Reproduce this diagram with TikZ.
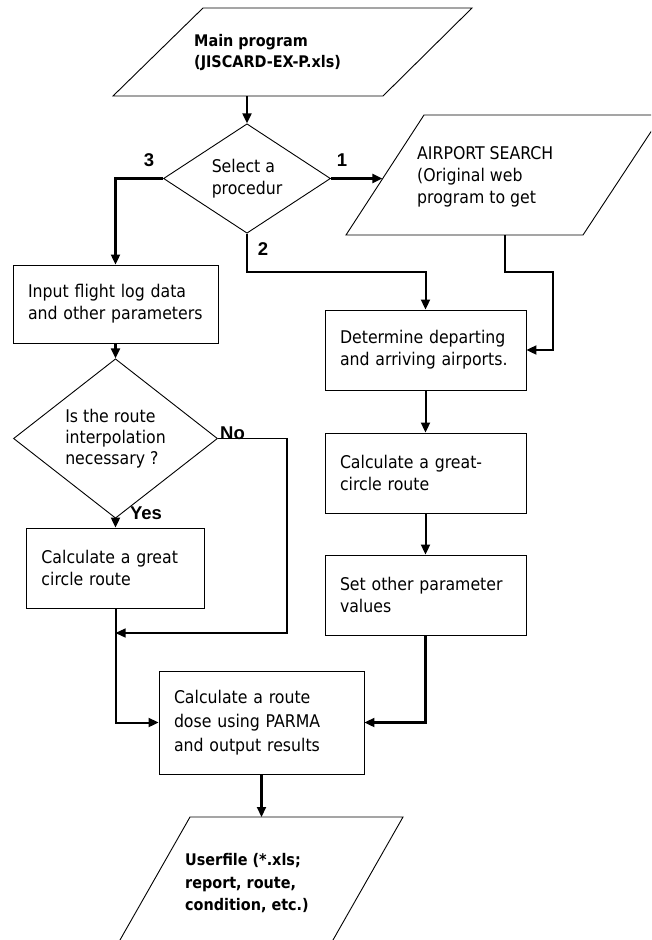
\documentclass[tikz,border=0pt]{standalone}
\usepackage{fontspec}
\setmainfont{DejaVu Sans Condensed}
\newfontfamily\lblfont{Liberation Sans}
\usetikzlibrary{arrows.meta,shapes.geometric}
\tikzset{
  shapeline/.style={line width=0.9pt},
  box/.style={draw, line width=0.9pt, rectangle, inner xsep=15pt, inner ysep=0pt, align=left,
    font=\fontsize{17.5}{22}\selectfont},
  dia/.style={draw, line width=0.9pt, diamond, inner sep=0pt, align=left,
    font=\fontsize{17.5}{22}\selectfont},
  flowthick/.style={line width=2.1pt, -{Triangle[length=10pt,width=9pt]}},
  flowmed/.style={line width=2.0pt, -{Triangle[length=10pt,width=9pt]}},
  flowthin/.style={line width=1.2pt, -{Triangle[length=10pt,width=9pt]}},
  lbl/.style={font=\lblfont\bfseries\fontsize{18.5}{20}\selectfont, inner sep=0pt},
  ptext/.style={font=\bfseries\fontsize{16}{21}\selectfont, align=left, inner sep=0pt, anchor=west},
  rtext/.style={font=\fontsize{17.5}{22}\selectfont, align=left, inner sep=0pt, anchor=west}
}
\begin{document}
\begin{tikzpicture}[x=1pt,y=-1pt]
\useasboundingbox (0,0) rectangle (651,940);
\fill[white] (0,0) rectangle (651,940);
\clip (0,0) rectangle (651,940);

% top parallelogram
\draw[shapeline] (113,96) -- (383,96) -- (472,8) -- (203,8) -- cycle;
\node[ptext] (tp) at (194,52.5) {Main program\\(JISCARD-EX-P.xls)};
\coordinate (tpB) at (247,96);

% selection diamond
\node[dia, minimum width=167pt, minimum height=103pt] (d1) at (247,178.5) {Select a\\procedur};

% right parallelogram
\draw[shapeline] (346,235) -- (583,235) -- (662,115) -- (424,115) -- cycle;
\node[rtext] (rp) at (417,177) {AIRPORT SEARCH\\(Original web\\program to get};
\coordinate (rpL) at (382.4,178.5);
\coordinate (rpB) at (505,235);

% left column
\node[box, minimum width=205pt, minimum height=78pt, text width=175pt] (inbox) at (115.5,304)
  {Input flight log data\\and other parameters};
\node[dia, minimum width=204pt, minimum height=123pt, font=\fontsize{17.5}{21}\selectfont] (d2) at (115.5,438.5)
  {Is the route\\interpolation\\necessary ?};
\node[box, minimum width=178pt, minimum height=80pt, text width=148pt] (gc1) at (115.5,568)
  {Calculate a great\\circle route};

% right column
\node[box, minimum width=201pt, minimum height=80pt, text width=171pt] (det) at (425.5,350)
  {Determine departing\\and arriving airports.};
\node[box, minimum width=201pt, minimum height=80pt, text width=171pt] (gc2) at (425.5,473)
  {Calculate a great-\\circle route};
\node[box, minimum width=201pt, minimum height=80pt, text width=171pt] (set) at (425.5,595)
  {Set other parameter\\values};

% final box
\node[box, minimum width=205pt, minimum height=103pt, text width=175pt, font=\fontsize{17.5}{24}\selectfont] (final) at (261.5,722.5)
  {Calculate a route\\dose using PARMA\\and output results};

% bottom parallelogram
\draw[shapeline] (190,817) -- (403,817) -- (321.6,960) -- (108.6,960) -- cycle;
\node[ptext, font=\bfseries\fontsize{16}{22.5}\selectfont] (up) at (185,883.5) {Userfile (*.xls;\\report, route,\\condition, etc.)};
\coordinate (upT) at (261.5,817);

% labels
\node[lbl] (lab3) at (149,160) {3};
\node[lbl] (lab1) at (342,160) {1};
\node[lbl] (lab2) at (263,249) {2};
\node[lbl] (labno) at (232.5,433) {No};
\node[lbl] (labyes) at (146,513) {Yes};

% junction coordinates
\coordinate (j2) at (425.5,272);
\coordinate (j1) at (553,272);
\coordinate (jn1) at (287,633);
\coordinate (jn2) at (115.5,633);

% connectors
\draw[flowthick] (tpB) -- (d1.north);
\draw[flowthick] (d1.east) -- (rpL);
\draw[flowthick] (d1.west) -| (inbox.north);
\draw[flowmed] (d1.south) |- (j2) -- (det.north);
\draw[flowthick] (rpB) |- (j1) |- (det.east);
\draw[flowthick] (inbox.south) -- (d2.north);
\draw[flowthick] (d2.south) -- (gc1.north);
\draw[flowthin] (d2.east) -| (jn1) -- (jn2);
\draw[flowmed] (gc1.south) |- (final.west);
\draw[flowmed] (det.south) -- (gc2.north);
\draw[flowmed] (gc2.south) -- (set.north);
\draw[flowthick] (set.south) |- (final.east);
\draw[flowthick] (final.south) -- (upT);
\end{tikzpicture}
\end{document}
